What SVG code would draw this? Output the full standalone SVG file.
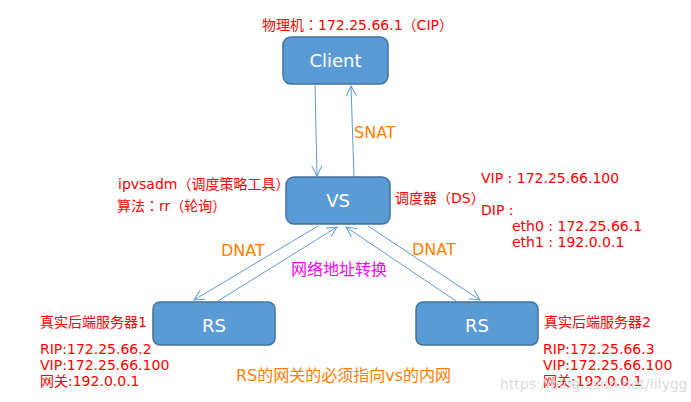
<svg xmlns="http://www.w3.org/2000/svg" width="691" height="402" viewBox="0 0 691 402">
<style>
.box{fill:#5b9bd5;stroke:#41719c;stroke-width:1.5}
.bt{fill:#fff;font-family:"DejaVu Sans","Noto Sans CJK SC",sans-serif;font-size:18px;text-anchor:middle}
.red{fill:#ff0000;font-family:"DejaVu Sans","Noto Sans CJK SC",sans-serif;font-size:14px}
.or{fill:#ff8000;font-family:"DejaVu Sans","Noto Sans CJK SC",sans-serif;font-size:16px}
.mg{fill:#ff00ff;font-family:"DejaVu Sans","Noto Sans CJK SC",sans-serif;font-size:16px}
.c{font-family:"Noto Sans CJK TC",sans-serif}
.ln{stroke:#5b9bd5;stroke-width:1;fill:none;marker-end:url(#ah)}
</style>
<defs>
<marker id="ah" viewBox="0 0 12 12" refX="11" refY="6" markerWidth="12" markerHeight="12" markerUnits="userSpaceOnUse" orient="auto">
<path d="M1,1 L11,6 L1,11" fill="none" stroke="#5b9bd5" stroke-width="1"/>
</marker>
</defs>
<rect width="691" height="402" fill="#fff"/>
<g id="connectors">
<line class="ln" x1="315" y1="85" x2="317" y2="176"/>
<line class="ln" x1="354" y1="177" x2="351" y2="86"/>
<line class="ln" x1="318" y1="226" x2="194" y2="300"/>
<line class="ln" x1="218" y1="301" x2="337" y2="227"/>
<line class="ln" x1="456" y1="301" x2="346" y2="227"/>
<line class="ln" x1="368" y1="226" x2="480" y2="300"/>
</g>
<g id="client">
<rect class="box" x="283" y="37" width="105" height="47" rx="8"/>
<text class="bt" x="335.5" y="67">Client</text>
<text class="red" x="262" y="30">物理机<tspan class="c">：</tspan>172.25.66.1（CIP）</text>
</g>
<g id="vs">
<rect class="box" x="286" y="177" width="104" height="47" rx="8"/>
<text class="bt" x="338" y="207">VS</text>
<text class="red" x="118" y="189">ipvsadm（调度策略工具）</text>
<text class="red" x="117" y="211">算法<tspan class="c">：</tspan>rr（轮询）</text>
<text class="red" x="395" y="203">调度器（DS）</text>
<text class="red" x="481" y="183">VIP : 172.25.66.100</text>
<text class="red" x="481" y="215">DIP : </text>
<text class="red" x="512" y="231">eth0 : 172.25.66.1</text>
<text class="red" x="512" y="247">eth1 : 192.0.0.1</text>
</g>
<g id="rs1">
<rect class="box" x="153" y="302" width="122" height="43" rx="7"/>
<text class="bt" x="214" y="332">RS</text>
<text class="red" x="40" y="327">真实后端服务器1</text>
<text class="red" x="40" y="354">RIP:172.25.66.2</text>
<text class="red" x="40" y="370">VIP:172.25.66.100</text>
<text class="red" x="40" y="386">网关:192.0.0.1</text>
</g>
<g id="rs2">
<rect class="box" x="416" y="302" width="122" height="43" rx="7"/>
<text class="bt" x="477" y="332">RS</text>
<text class="red" x="544" y="327">真实后端服务器2</text>
<text class="red" x="543" y="354">RIP:172.25.66.3</text>
<text class="red" x="543" y="370">VIP:172.25.66.100</text>
<text class="red" x="543" y="386">网关:192.0.0.1</text>
</g>
<g id="labels">
<text class="or" x="354" y="138">SNAT</text>
<text class="or" x="221" y="256">DNAT</text>
<text class="or" x="412" y="255">DNAT</text>
<text class="mg" x="291" y="275">网络地址转换</text>
<text class="or" x="236" y="381">RS的网关的必须指向vs的内网</text>
<text x="500" y="389" style="fill:#dcdcdc;font-family:'DejaVu Sans',sans-serif;font-size:14px">https://blog.csdn.net/lilygg</text>
</g>
</svg>
